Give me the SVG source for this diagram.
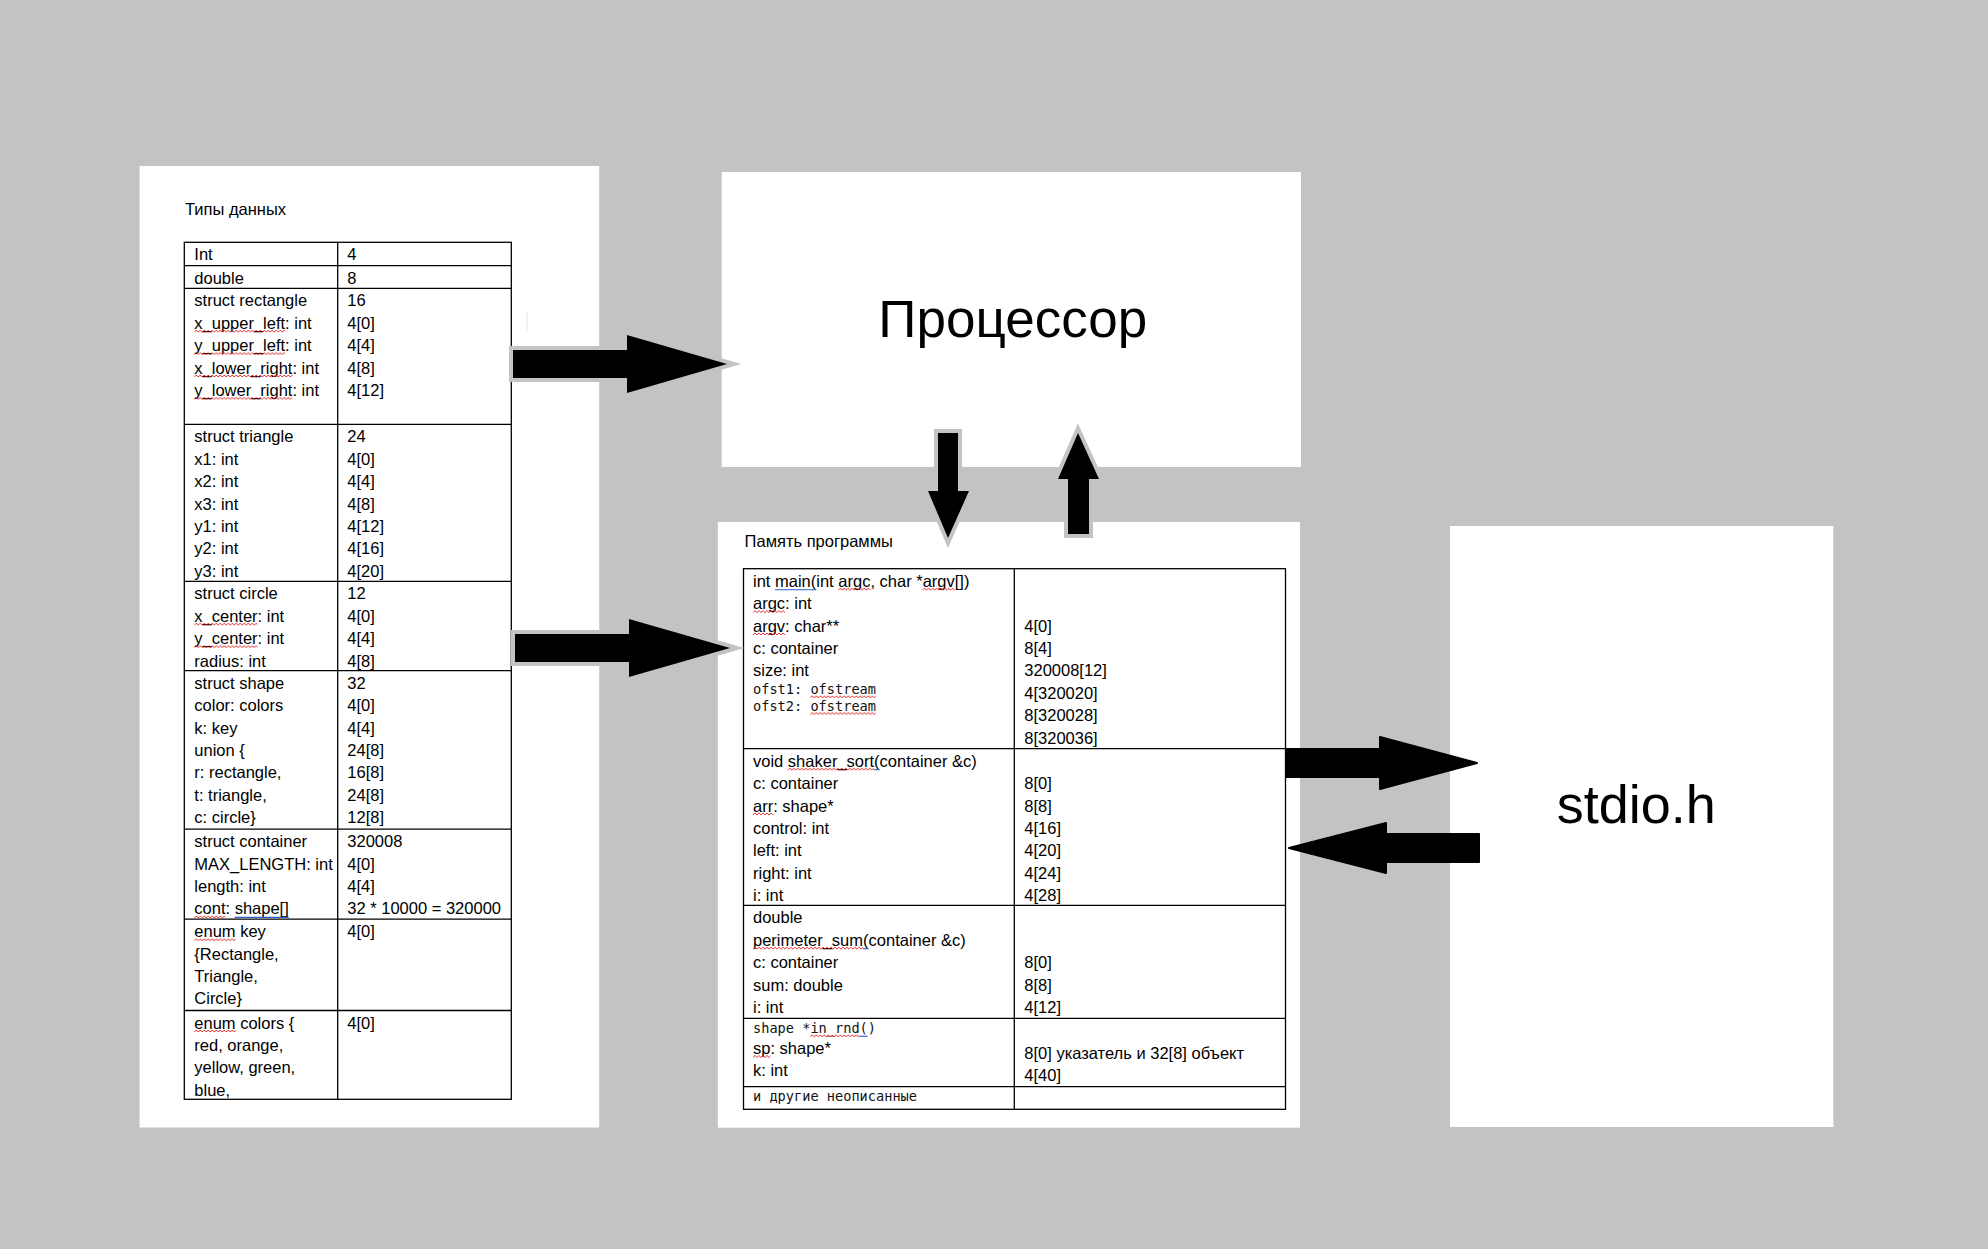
<svg xmlns="http://www.w3.org/2000/svg" width="1988" height="1249" viewBox="0 0 1988 1249">
<style>
.page{fill:#ffffff}
.t{font-family:"Liberation Sans",Arial,sans-serif;font-size:16.5px;fill:#000}
.m{font-family:"DejaVu Sans Mono","Liberation Mono",monospace;font-size:14.4px;fill:#111}
.grid{fill:none;stroke:#000;stroke-width:1.3}
.big{font-family:"Liberation Sans",Arial,sans-serif;fill:#000}
.arrO{fill:#000;stroke:#c3c3c3;stroke-width:8;paint-order:stroke;stroke-linejoin:miter}
.arr{fill:#000;stroke:#000;stroke-width:2;stroke-linejoin:round}
.sq{fill:url(#wavy)}
.bl{stroke:#2f5fd0;stroke-width:1.1}
</style>
<defs>
<pattern id="wavy" width="4" height="4" patternUnits="userSpaceOnUse">
<path d="M0,3 L2,1 L4,3" fill="none" stroke="#e02020" stroke-width="0.9"/>
</pattern>
</defs>
<rect x="0" y="0" width="1988" height="1249" fill="#c3c3c3"/>

<g id="types">
<rect class="page" x="139.6" y="166" width="459.6" height="961.5"/>
<line x1="527" y1="311" x2="527" y2="332" stroke="#e6e6e6" stroke-width="1"/>
<text class="t" x="185" y="215">Типы данных</text>
<rect class="grid" x="184.3" y="242.3" width="327" height="857"/>
<line class="grid" x1="337.7" y1="242.3" x2="337.7" y2="1099.3"/>
<path class="grid" d="M184.3,265.7H511.3M184.3,288.3H511.3M184.3,424.3H511.3M184.3,581.3H511.3M184.3,670.7H511.3M184.3,829.2H511.3M184.3,919.2H511.3M184.3,1010.5H511.3"/>
<text class="t" x="194.3" y="260.3">Int</text>
<text class="t" x="347.3" y="260.3">4</text>
<text class="t" x="194.3" y="283.5">double</text>
<text class="t" x="347.3" y="283.5">8</text>
<text class="t" y="306.3"><tspan x="194.3">struct rectangle</tspan><tspan x="194.3" dy="22.4">x_upper_left: int</tspan><tspan x="194.3" dy="22.4">y_upper_left: int</tspan><tspan x="194.3" dy="22.4">x_lower_right: int</tspan><tspan x="194.3" dy="22.4">y_lower_right: int</tspan></text>
<text class="t" y="306.3"><tspan x="347.3">16</tspan><tspan x="347.3" dy="22.4">4[0]</tspan><tspan x="347.3" dy="22.4">4[4]</tspan><tspan x="347.3" dy="22.4">4[8]</tspan><tspan x="347.3" dy="22.4">4[12]</tspan></text>
<text class="t" y="442.3"><tspan x="194.3">struct triangle</tspan><tspan x="194.3" dy="22.4">x1: int</tspan><tspan x="194.3" dy="22.4">x2: int</tspan><tspan x="194.3" dy="22.4">x3: int</tspan><tspan x="194.3" dy="22.4">y1: int</tspan><tspan x="194.3" dy="22.4">y2: int</tspan><tspan x="194.3" dy="22.4">y3: int</tspan></text>
<text class="t" y="442.3"><tspan x="347.3">24</tspan><tspan x="347.3" dy="22.4">4[0]</tspan><tspan x="347.3" dy="22.4">4[4]</tspan><tspan x="347.3" dy="22.4">4[8]</tspan><tspan x="347.3" dy="22.4">4[12]</tspan><tspan x="347.3" dy="22.4">4[16]</tspan><tspan x="347.3" dy="22.4">4[20]</tspan></text>
<text class="t" y="599.3"><tspan x="194.3">struct circle</tspan><tspan x="194.3" dy="22.4">x_center: int</tspan><tspan x="194.3" dy="22.4">y_center: int</tspan><tspan x="194.3" dy="22.4">radius: int</tspan></text>
<text class="t" y="599.3"><tspan x="347.3">12</tspan><tspan x="347.3" dy="22.4">4[0]</tspan><tspan x="347.3" dy="22.4">4[4]</tspan><tspan x="347.3" dy="22.4">4[8]</tspan></text>
<text class="t" y="688.7"><tspan x="194.3">struct shape</tspan><tspan x="194.3" dy="22.4">color: colors</tspan><tspan x="194.3" dy="22.4">k: key</tspan><tspan x="194.3" dy="22.4">union {</tspan><tspan x="194.3" dy="22.4">r: rectangle,</tspan><tspan x="194.3" dy="22.4">t: triangle,</tspan><tspan x="194.3" dy="22.4">c: circle}</tspan></text>
<text class="t" y="688.7"><tspan x="347.3">32</tspan><tspan x="347.3" dy="22.4">4[0]</tspan><tspan x="347.3" dy="22.4">4[4]</tspan><tspan x="347.3" dy="22.4">24[8]</tspan><tspan x="347.3" dy="22.4">16[8]</tspan><tspan x="347.3" dy="22.4">24[8]</tspan><tspan x="347.3" dy="22.4">12[8]</tspan></text>
<text class="t" y="847.2"><tspan x="194.3">struct container</tspan><tspan x="194.3" dy="22.4">MAX_LENGTH: int</tspan><tspan x="194.3" dy="22.4">length: int</tspan><tspan x="194.3" dy="22.4">cont: shape[]</tspan></text>
<text class="t" y="847.2"><tspan x="347.3">320008</tspan><tspan x="347.3" dy="22.4">4[0]</tspan><tspan x="347.3" dy="22.4">4[4]</tspan><tspan x="347.3" dy="22.4">32 * 10000 = 320000</tspan></text>
<text class="t" y="937.2"><tspan x="194.3">enum key</tspan><tspan x="194.3" dy="22.4">{Rectangle,</tspan><tspan x="194.3" dy="22.4">Triangle,</tspan><tspan x="194.3" dy="22.4">Circle}</tspan></text>
<text class="t" x="347.3" y="937.2">4[0]</text>
<text class="t" y="1028.5"><tspan x="194.3">enum colors {</tspan><tspan x="194.3" dy="22.4">red, orange,</tspan><tspan x="194.3" dy="22.4">yellow, green,</tspan><tspan x="194.3" dy="22.4">blue,</tspan></text>
<text class="t" x="347.3" y="1028.5">4[0]</text>
<rect class="sq" transform="translate(194.3,329.2)" width="90.8" height="4"/>
<rect class="sq" transform="translate(194.3,351.6)" width="90.8" height="4"/>
<rect class="sq" transform="translate(194.3,374)" width="98.1" height="4"/>
<rect class="sq" transform="translate(194.3,396.4)" width="98.1" height="4"/>
<rect class="sq" transform="translate(194.3,622.2)" width="63.3" height="4"/>
<rect class="sq" transform="translate(194.3,644.6)" width="63.3" height="4"/>
<rect class="sq" transform="translate(194.3,914.9)" width="31.2" height="4"/>
<line class="bl" x1="234.7" y1="917.4" x2="288.8" y2="917.4"/>
<rect class="sq" transform="translate(194.3,937.7)" width="41.3" height="4"/>
<rect class="sq" transform="translate(194.3,1029)" width="41.3" height="4"/>
</g>

<g id="processor">
<rect class="page" x="721.7" y="172" width="579.3" height="295"/>
<text class="big" x="1012.8" y="337.3" font-size="51" text-anchor="middle" textLength="269" lengthAdjust="spacingAndGlyphs">Процессор</text>
</g>

<g id="memory">
<rect class="page" x="717.8" y="522" width="582.2" height="605.7"/>
<text class="t" x="744.6" y="547.3">Память программы</text>
<rect class="grid" x="743.5" y="568.7" width="542" height="540.6"/>
<line class="grid" x1="1014.3" y1="568.7" x2="1014.3" y2="1109.3"/>
<path class="grid" d="M743.5,748.7H1285.5M743.5,905.3H1285.5M743.5,1018.3H1285.5M743.5,1086.7H1285.5"/>
<text class="t" y="586.7"><tspan x="753">int main(int argc, char *argv[])</tspan><tspan x="753" dy="22.4">argc: int</tspan><tspan x="753" dy="22.4">argv: char**</tspan><tspan x="753" dy="22.4">c: container</tspan><tspan x="753" dy="22.4">size: int</tspan></text>
<text class="m" x="753" y="694.3" textLength="123" lengthAdjust="spacingAndGlyphs">ofst1: ofstream</text>
<text class="m" x="753" y="711" textLength="123" lengthAdjust="spacingAndGlyphs">ofst2: ofstream</text>
<text class="t" y="631.5"><tspan x="1024.3">4[0]</tspan><tspan x="1024.3" dy="22.4">8[4]</tspan><tspan x="1024.3" dy="22.4">320008[12]</tspan><tspan x="1024.3" dy="22.4">4[320020]</tspan><tspan x="1024.3" dy="22.4">8[320028]</tspan><tspan x="1024.3" dy="22.4">8[320036]</tspan></text>
<text class="t" y="766.7"><tspan x="753">void shaker_sort(container &amp;c)</tspan><tspan x="753" dy="22.4">c: container</tspan><tspan x="753" dy="22.4">arr: shape*</tspan><tspan x="753" dy="22.4">control: int</tspan><tspan x="753" dy="22.4">left: int</tspan><tspan x="753" dy="22.4">right: int</tspan><tspan x="753" dy="22.4">i: int</tspan></text>
<text class="t" y="789.1"><tspan x="1024.3">8[0]</tspan><tspan x="1024.3" dy="22.4">8[8]</tspan><tspan x="1024.3" dy="22.4">4[16]</tspan><tspan x="1024.3" dy="22.4">4[20]</tspan><tspan x="1024.3" dy="22.4">4[24]</tspan><tspan x="1024.3" dy="22.4">4[28]</tspan></text>
<text class="t" y="923.3"><tspan x="753">double</tspan><tspan x="753" dy="22.4">perimeter_sum(container &amp;c)</tspan><tspan x="753" dy="22.4">c: container</tspan><tspan x="753" dy="22.4">sum: double</tspan><tspan x="753" dy="22.4">i: int</tspan></text>
<text class="t" y="968.1"><tspan x="1024.3">8[0]</tspan><tspan x="1024.3" dy="22.4">8[8]</tspan><tspan x="1024.3" dy="22.4">4[12]</tspan></text>
<text class="m" x="753" y="1033.3" textLength="123" lengthAdjust="spacingAndGlyphs">shape *in_rnd()</text>
<text class="t" y="1054"><tspan x="753">sp: shape*</tspan><tspan x="753" dy="21.7">k: int</tspan></text>
<text class="t" y="1059"><tspan x="1024.3">8[0] указатель и 32[8] объект</tspan><tspan x="1024.3" dy="22">4[40]</tspan></text>
<text class="m" x="753" y="1101" textLength="164" lengthAdjust="spacingAndGlyphs">и другие неописанные</text>
<line class="bl" x1="775" y1="589.7" x2="816.3" y2="589.7"/>
<rect class="sq" transform="translate(838.3,587.2)" width="32.1" height="4"/>
<rect class="sq" transform="translate(922.6,587.2)" width="32.1" height="4"/>
<rect class="sq" transform="translate(753,609.6)" width="32.1" height="4"/>
<rect class="sq" transform="translate(753,632)" width="32.1" height="4"/>
<rect class="sq" transform="translate(810.3,694.8)" width="65.5" height="4"/>
<rect class="sq" transform="translate(810.3,711.5)" width="65.5" height="4"/>
<rect class="sq" transform="translate(787.8,767.2)" width="86.2" height="4"/>
<line class="bl" x1="874" y1="769.7" x2="879.5" y2="769.7"/>
<rect class="sq" transform="translate(753,812)" width="20.2" height="4"/>
<rect class="sq" transform="translate(753,946.2)" width="110" height="4"/>
<line class="bl" x1="863" y1="948.7" x2="868.5" y2="948.7"/>
<rect class="sq" transform="translate(810.3,1033.8)" width="49.1" height="4"/>
<line class="bl" x1="859.4" y1="1036.3" x2="867.6" y2="1036.3"/>
<rect class="sq" transform="translate(753,1054.5)" width="17.4" height="4"/>
</g>

<g id="stdio">
<rect class="page" x="1450" y="526" width="383.3" height="601"/>
<text class="big" x="1556.7" y="823.3" font-size="53" textLength="159" lengthAdjust="spacingAndGlyphs">stdio.h</text>
</g>

<g id="connectors">
<path class="arrO" d="M513,350H627V335L727,364L627,393V378H513Z"/>
<path class="arrO" d="M515,634H629V619L730,648L629,677V662H515Z"/>
<path class="arrO" d="M938,433H958V491H969L948,538L928,491H938Z"/>
<path class="arrO" d="M1068,534V479H1058L1078,433L1099,479H1089V534Z"/>
<path class="arr" d="M1286,749H1380V737L1477,763L1380,789V777H1286Z"/>
<path class="arr" d="M1479,834H1386V823L1289,848L1386,873V862H1479Z"/>
</g>
</svg>
